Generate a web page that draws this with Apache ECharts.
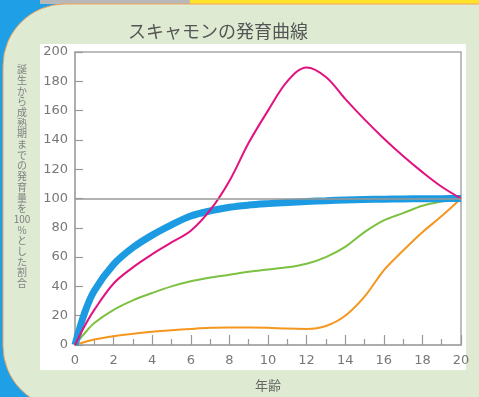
<!DOCTYPE html>
<html>
<head>
<meta charset="utf-8">
<script src="https://cdn.jsdelivr.net/npm/echarts@6/dist/echarts.min.js"></script>
<style>
  html, body { margin: 0; padding: 0; background: #1f9fe6; }
  #chart { width: 479px; height: 397px; }
</style>
</head>
<body>
<div id="chart"></div>
<script>
// 年齢 (x) and each curve's value (% of growth from birth to maturity)
const ages = [0, 0.5, 1, 2, 3, 4, 5, 6, 7, 8, 9, 10, 11, 12, 13, 14, 15, 16, 17, 18, 19, 20]
const lymphoid = [0, 13, 24, 42, 53, 62, 70, 78, 92, 112, 138, 160, 180, 189.5, 183, 168, 154, 141, 129, 118, 108, 100]
const neural = [0, 22, 37, 55, 66.5, 75, 82, 88, 91.5, 94, 95.5, 96.5, 97.3, 98, 98.5, 99, 99.3, 99.5, 99.7, 99.8, 99.9, 100]
const general = [0, 8, 15, 24, 30.5, 35.5, 40, 43.5, 46, 48, 50, 51.5, 53, 55.5, 60, 67, 77, 85, 90, 95, 98, 100]
const genital = [0, 2, 3.8, 6, 7.6, 9, 10, 11, 11.8, 12, 12, 11.8, 11.2, 11, 13, 20, 33, 51, 64.5, 77, 88, 100]
const yTicks = [0, 20, 40, 60, 80, 100, 120, 140, 160, 180, 200]
const xTicks = [0, 2, 4, 6, 8, 10, 12, 14, 16, 18, 20]

const yName = ['誕', '生', 'か', 'ら', '成', '熟', '期', 'ま', 'で', 'の', '発', '育', '量', 'を', '100', '%', 'と', 'し', 'た', '割', '合']

const pairs = vals => ages.map((a, i) => [a, vals[i]])

const chart = echarts.init(document.getElementById('chart'))
const lineSeries = (name, vals, color, width) => ({
  name: name,
  type: 'line',
  data: pairs(vals),
  smooth: 0.35,
  showSymbol: false,
  symbol: 'none',
  lineStyle: { color: color, width: width, cap: 'butt' },
  itemStyle: { color: color },
  animation: false
})

chart.setOption({
  backgroundColor: 'transparent',
  animation: false,
  graphic: [
    { type: 'rect', z: -20, shape: { x: 40, y: 0, width: 150, height: 4 }, style: { fill: '#b8b8b8' } },
    { type: 'rect', z: -20, shape: { x: 190, y: 0, width: 289, height: 4 }, style: { fill: '#ffe22a' } },
    {
      type: 'rect', z: -15,
      shape: { x: 3, y: 4, width: 560, height: 404, r: 62 },
      style: { fill: '#deebd2', stroke: '#f2a35a', lineWidth: 1 }
    },
    { type: 'rect', z: -10, shape: { x: 40, y: 44, width: 426, height: 326 }, style: { fill: '#ffffff' } },
    {
      type: 'text', z: 50, left: 128, top: 22,
      style: { text: 'スキャモンの発育曲線', fontSize: 18, fill: '#555', fontFamily: 'Noto Sans CJK JP' }
    },
    {
      type: 'text', z: 50, x: 22, y: 64,
      style: {
        text: yName.join('\n'), fontSize: 10, lineHeight: 10.7, fill: '#808080',
        align: 'center', fontFamily: 'Noto Sans CJK JP'
      }
    }
  ],
  grid: {
    left: 75, right: 18, top: 52, bottom: 48,
    show: true, borderColor: '#a8a8a8', borderWidth: 1.5, backgroundColor: 'transparent'
  },
  xAxis: {
    type: 'value', min: 0, max: 20, interval: 2,
    name: '年齢', nameLocation: 'middle', nameGap: 34,
    nameTextStyle: { color: '#666', fontSize: 13, fontFamily: 'Noto Sans CJK JP' },
    axisLine: { show: true, lineStyle: { color: '#a8a8a8', width: 1.5 } },
    axisTick: { show: true, inside: true, length: 10, lineStyle: { color: '#999', width: 1.2 } },
    minorTick: { show: true, splitNumber: 2, length: 6, lineStyle: { color: '#999', width: 1.2 } },
    axisLabel: {
      color: '#777', fontSize: 13, fontFamily: 'DejaVu Sans', margin: 9,
      formatter: v => (xTicks.includes(v) ? String(v) : '')
    },
    splitLine: { show: false }
  },
  yAxis: {
    type: 'value', min: 0, max: 200, interval: 20,
    axisLine: { show: true, lineStyle: { color: '#a8a8a8', width: 1.5 } },
    axisTick: { show: true, inside: true, length: 8, lineStyle: { color: '#999', width: 1.2 } },
    axisLabel: {
      color: '#777', fontSize: 13, fontFamily: 'DejaVu Sans', margin: 7,
      formatter: v => (yTicks.includes(v) ? String(v) : '')
    },
    splitLine: { show: false }
  },
  series: [
    Object.assign(lineSeries('一般型', general, '#7dc142', 2), {
      markLine: {
        silent: true, symbol: 'none', label: { show: false },
        lineStyle: { color: '#999', width: 1.5, type: 'solid' },
        data: [{ yAxis: 100 }]
      }
    }),
    lineSeries('生殖型', genital, '#f5961e', 2),
    lineSeries('神経型', neural, '#1d9be2', 7),
    lineSeries('リンパ型', lymphoid, '#e2117f', 2)
  ]
})
</script>
</body>
</html>
